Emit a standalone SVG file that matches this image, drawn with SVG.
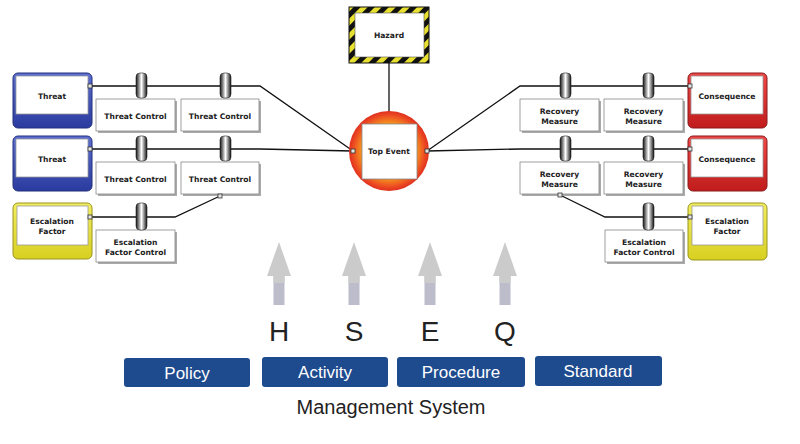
<svg xmlns="http://www.w3.org/2000/svg" width="800" height="444" viewBox="0 0 800 444">
<defs>
<linearGradient id="gBlue" x1="0" y1="0" x2="0" y2="1"><stop offset="0" stop-color="#5d6fd0"/><stop offset="1" stop-color="#2a3a9e"/></linearGradient>
<linearGradient id="gRed" x1="0" y1="0" x2="0" y2="1"><stop offset="0" stop-color="#f04848"/><stop offset="1" stop-color="#c01c1c"/></linearGradient>
<linearGradient id="gYel" x1="0" y1="0" x2="0" y2="1"><stop offset="0" stop-color="#f2ee60"/><stop offset="1" stop-color="#d8d020"/></linearGradient>
<linearGradient id="gBar" x1="0" y1="0" x2="1" y2="0"><stop offset="0" stop-color="#111"/><stop offset="0.5" stop-color="#fff"/><stop offset="1" stop-color="#111"/></linearGradient>
<radialGradient id="gTop" cx="0.5" cy="0.5" r="0.5"><stop offset="0" stop-color="#ffc020"/><stop offset="0.7" stop-color="#f59020"/><stop offset="0.9" stop-color="#ec4a22"/><stop offset="1" stop-color="#e0301e"/></radialGradient>
<pattern id="pStripe" width="10" height="10" patternUnits="userSpaceOnUse" patternTransform="rotate(45)"><rect width="10" height="10" fill="#111"/><rect width="5" height="10" fill="#e8e030"/></pattern>
<style>
.n{font-family:"DejaVu Sans",Verdana,sans-serif;font-weight:bold;font-size:7.6px;fill:#222;text-anchor:middle}
.ctl{fill:#fff;stroke:#888;stroke-width:0.8}
.sh{fill:#aaa}
.bar{fill:url(#gBar);stroke:#222;stroke-width:0.6}
.ln{fill:none;stroke:#111;stroke-width:1.3}
.pt{fill:#e6e6e6;stroke:#333;stroke-width:0.8}
.inner{fill:#fff;stroke:#9a9a9a;stroke-width:0.8}
.bb{fill:#1e4a8e}
.bt{font-family:"Liberation Sans",Arial,sans-serif;font-size:17px;fill:#fff;text-anchor:middle}
.arrH{fill:#cbcbcb}
.arrS{fill:#bcbccb}
.big{font-family:"Liberation Sans",Arial,sans-serif;fill:#222;text-anchor:middle}
</style>
</defs>
<rect width="800" height="444" fill="#fff"/>

<g id="connectors">
<polyline class="ln" points="92,86 260,86 353,151"/>
<polyline class="ln" points="92,149 260,149 353,151"/>
<polyline class="ln" points="92,217 175,217 220,196"/>
<polyline class="ln" points="427,151 520,86 688,86"/>
<polyline class="ln" points="427,151 520,149 688,149"/>
<polyline class="ln" points="688,217 605,217 560,195"/>
<line class="ln" x1="389" y1="63" x2="389" y2="112"/>
</g>

<g id="hazard">
<rect x="349" y="7" width="80" height="56" fill="url(#pStripe)" stroke="#111" stroke-width="1"/>
<rect x="355" y="13" width="69" height="44" fill="#fff" stroke="#555" stroke-width="0.6"/>
<text class="n" x="389" y="38">Hazard</text>
</g>

<g id="top-event">
<circle cx="389" cy="151" r="40" fill="url(#gTop)"/>
<rect x="362" y="124" width="55" height="55" fill="#fff" stroke="#888" stroke-width="0.8"/>
<text class="n" x="389" y="154">Top Event</text>
<rect class="pt" x="351" y="149" width="4" height="4"/>
<rect class="pt" x="425" y="149" width="4" height="4"/>
</g>

<g id="threat-1">
<rect x="13" y="73" width="79" height="55" rx="5" fill="url(#gBlue)" stroke="#23307a"/>
<rect class="inner" x="16" y="76" width="72" height="38"/>
<text class="n" x="52" y="99">Threat</text>
<rect class="pt" x="88" y="84" width="4" height="4"/>
</g>
<g id="threat-2">
<rect x="13" y="136" width="79" height="55" rx="5" fill="url(#gBlue)" stroke="#23307a"/>
<rect class="inner" x="16" y="139" width="72" height="38"/>
<text class="n" x="52" y="162">Threat</text>
<rect class="pt" x="88" y="147" width="4" height="4"/>
</g>
<g id="escalation-factor-left">
<rect x="13" y="203" width="79" height="56" rx="5" fill="url(#gYel)" stroke="#9a9420"/>
<rect class="inner" x="17" y="206" width="71" height="39"/>
<text class="n" x="52" y="224">Escalation</text>
<text class="n" x="52" y="234">Factor</text>
<rect class="pt" x="88" y="215" width="4" height="4"/>
</g>

<g id="threat-control-1a">
<rect class="sh" x="98" y="101" width="79" height="32"/>
<rect class="ctl" x="96" y="99" width="79" height="32"/>
<text class="n" x="135.5" y="119">Threat Control</text>
<rect class="bar" x="136" y="73" width="11" height="25" rx="4"/>
</g>
<g id="threat-control-1b">
<rect class="sh" x="183" y="101" width="78" height="32"/>
<rect class="ctl" x="181" y="99" width="78" height="32"/>
<text class="n" x="220" y="119">Threat Control</text>
<rect class="bar" x="220" y="73" width="11" height="25" rx="4"/>
</g>
<g id="threat-control-2a">
<rect class="sh" x="98" y="164" width="79" height="32"/>
<rect class="ctl" x="96" y="162" width="79" height="32"/>
<text class="n" x="135.5" y="182">Threat Control</text>
<rect class="bar" x="136" y="136" width="11" height="25" rx="4"/>
</g>
<g id="threat-control-2b">
<rect class="sh" x="183" y="164" width="78" height="32"/>
<rect class="ctl" x="181" y="162" width="78" height="32"/>
<text class="n" x="220" y="182">Threat Control</text>
<rect class="bar" x="220" y="136" width="11" height="25" rx="4"/>
<rect class="pt" x="218" y="194" width="4" height="4"/>
</g>
<g id="escalation-factor-control-left">
<rect class="sh" x="98" y="232" width="79" height="32"/>
<rect class="ctl" x="96" y="230" width="79" height="32"/>
<text class="n" x="135.5" y="245">Escalation</text>
<text class="n" x="135.5" y="255">Factor Control</text>
<rect class="bar" x="136" y="203" width="11" height="27" rx="4"/>
</g>

<g id="recovery-1a">
<rect class="sh" x="522" y="101" width="79" height="32"/>
<rect class="ctl" x="520" y="99" width="79" height="32"/>
<text class="n" x="559.5" y="114">Recovery</text>
<text class="n" x="559.5" y="124">Measure</text>
<rect class="bar" x="560" y="73" width="11" height="25" rx="4"/>
</g>
<g id="recovery-1b">
<rect class="sh" x="606" y="101" width="79" height="32"/>
<rect class="ctl" x="604" y="99" width="79" height="32"/>
<text class="n" x="643.5" y="114">Recovery</text>
<text class="n" x="643.5" y="124">Measure</text>
<rect class="bar" x="643" y="73" width="11" height="25" rx="4"/>
</g>
<g id="recovery-2a">
<rect class="sh" x="522" y="164" width="79" height="32"/>
<rect class="ctl" x="520" y="162" width="79" height="32"/>
<text class="n" x="559.5" y="177">Recovery</text>
<text class="n" x="559.5" y="187">Measure</text>
<rect class="bar" x="560" y="136" width="11" height="25" rx="4"/>
<rect class="pt" x="558" y="193" width="4" height="4"/>
</g>
<g id="recovery-2b">
<rect class="sh" x="606" y="164" width="79" height="32"/>
<rect class="ctl" x="604" y="162" width="79" height="32"/>
<text class="n" x="643.5" y="177">Recovery</text>
<text class="n" x="643.5" y="187">Measure</text>
<rect class="bar" x="643" y="136" width="11" height="25" rx="4"/>
</g>
<g id="escalation-factor-control-right">
<rect class="sh" x="607" y="232" width="78" height="32"/>
<rect class="ctl" x="605" y="230" width="78" height="32"/>
<text class="n" x="644" y="245">Escalation</text>
<text class="n" x="644" y="255">Factor Control</text>
<rect class="bar" x="643" y="203" width="11" height="27" rx="4"/>
</g>

<g id="consequence-1">
<rect x="688" y="73" width="79" height="55" rx="5" fill="url(#gRed)" stroke="#8a1a1a"/>
<rect class="inner" x="691" y="76" width="72" height="38"/>
<text class="n" x="727" y="99">Consequence</text>
<rect class="pt" x="688" y="84" width="4" height="4"/>
</g>
<g id="consequence-2">
<rect x="688" y="136" width="79" height="55" rx="5" fill="url(#gRed)" stroke="#8a1a1a"/>
<rect class="inner" x="691" y="139" width="72" height="38"/>
<text class="n" x="727" y="162">Consequence</text>
<rect class="pt" x="688" y="147" width="4" height="4"/>
</g>
<g id="escalation-factor-right">
<rect x="688" y="203" width="79" height="57" rx="5" fill="url(#gYel)" stroke="#9a9420"/>
<rect class="inner" x="692" y="206" width="71" height="39"/>
<text class="n" x="727" y="224">Escalation</text>
<text class="n" x="727" y="234">Factor</text>
<rect class="pt" x="688" y="215" width="4" height="4"/>
</g>

<g id="arrows">
<g transform="translate(279,0)"><rect class="arrS" x="-5.5" y="275" width="11" height="30"/><rect class="arrH" x="-5.5" y="274" width="11" height="9"/><polygon class="arrH" points="0,242 12,276 -12,276"/></g>
<g transform="translate(354,0)"><rect class="arrS" x="-5.5" y="275" width="11" height="30"/><rect class="arrH" x="-5.5" y="274" width="11" height="9"/><polygon class="arrH" points="0,242 12,276 -12,276"/></g>
<g transform="translate(430,0)"><rect class="arrS" x="-5.5" y="275" width="11" height="30"/><rect class="arrH" x="-5.5" y="274" width="11" height="9"/><polygon class="arrH" points="0,242 12,276 -12,276"/></g>
<g transform="translate(505,0)"><rect class="arrS" x="-5.5" y="275" width="11" height="30"/><rect class="arrH" x="-5.5" y="274" width="11" height="9"/><polygon class="arrH" points="0,242 12,276 -12,276"/></g>
</g>

<g id="hseq">
<text class="big" x="279" y="341" font-size="28">H</text>
<text class="big" x="354" y="341" font-size="28">S</text>
<text class="big" x="430" y="341" font-size="28">E</text>
<text class="big" x="505" y="341" font-size="28">Q</text>
</g>

<g id="policy"><rect class="bb" x="124" y="358" width="126" height="29" rx="3"/><text class="bt" x="187" y="379">Policy</text></g>
<g id="activity"><rect class="bb" x="262" y="357" width="126" height="30" rx="3"/><text class="bt" x="325" y="378">Activity</text></g>
<g id="procedure"><rect class="bb" x="397" y="357" width="128" height="30" rx="3"/><text class="bt" x="461" y="378">Procedure</text></g>
<g id="standard"><rect class="bb" x="535" y="356" width="127" height="30" rx="3"/><text class="bt" x="598" y="377">Standard</text></g>

<text class="big" x="391" y="414" font-size="20">Management System</text>
</svg>
